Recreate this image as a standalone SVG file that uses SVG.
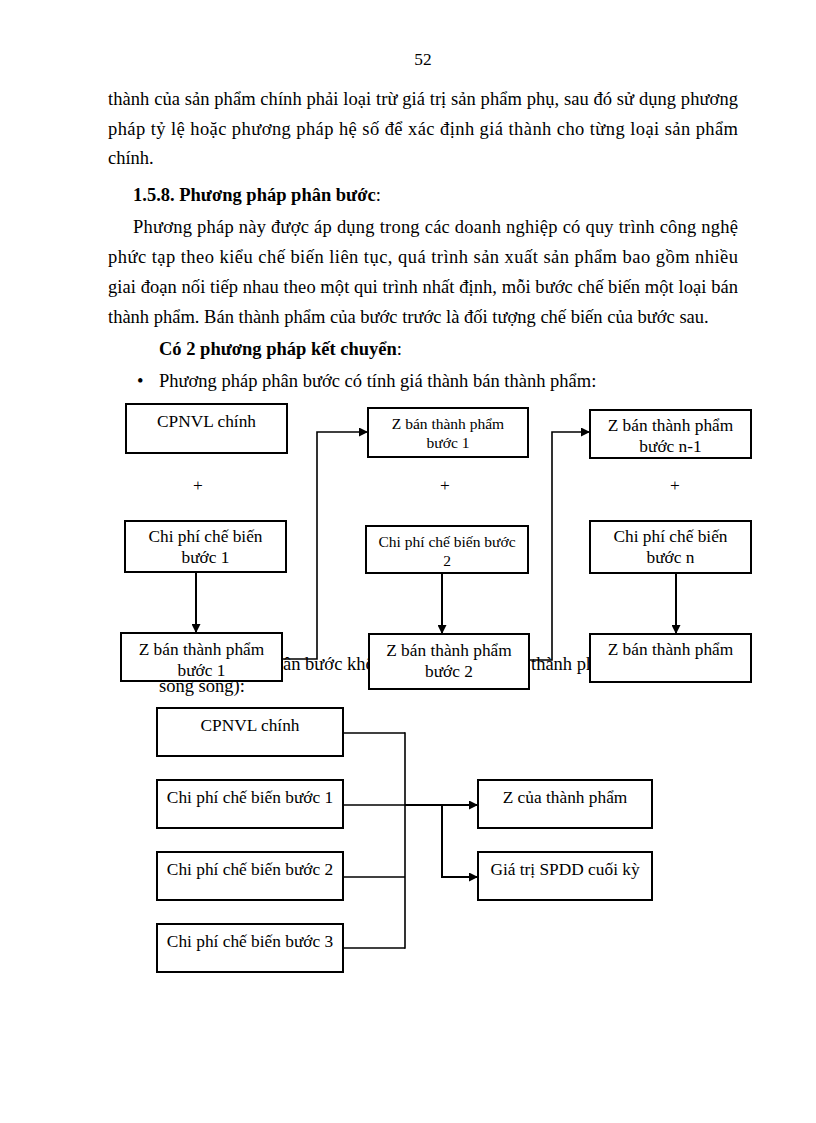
<svg xmlns="http://www.w3.org/2000/svg" width="816" height="1123" viewBox="0 0 816 1123">
<defs>
<style>
text{font-family:"Liberation Serif","Times New Roman",serif;fill:#000;}
.p{font-size:18.5px;}
.t{font-size:17.33px;}
.b{font-weight:bold;}
.s{font-size:15.5px;}
.box{fill:#fff;stroke:#000;stroke-width:2;}
.c{fill:none;stroke:#000;stroke-width:1.6;}
.a{fill:none;stroke:#000;stroke-width:2;}
.m{text-anchor:middle;}
</style>
<marker id="ar" viewBox="0 0 10 10" refX="10" refY="5" markerWidth="9" markerHeight="9" markerUnits="userSpaceOnUse" orient="auto">
<path d="M0,0 L10,5 L0,10 Z" fill="#000"/>
</marker>
</defs>
<rect width="816" height="1123" fill="#fff"/>
<g id="body-text">
<text class="t m" x="423" y="65">52</text>
<text class="p" x="108" y="105" textLength="630" lengthAdjust="spacing">thành của sản phẩm chính phải loại trừ giá trị sản phẩm phụ, sau đó sử dụng phương</text>
<text class="p" x="108" y="135" textLength="630" lengthAdjust="spacing">pháp tỷ lệ hoặc phương pháp hệ số để xác định giá thành cho từng loại sản phẩm</text>
<text class="p" x="108" y="164">chính.</text>
<text class="p" x="133" y="201"><tspan class="b">1.5.8. Phương pháp phân bước</tspan>:</text>
<text class="p" x="133" y="233" textLength="605" lengthAdjust="spacing">Phương pháp này được áp dụng trong các doanh nghiệp có quy trình công nghệ</text>
<text class="p" x="108" y="263" textLength="630" lengthAdjust="spacing">phức tạp theo kiểu chế biến liên tục, quá trình sản xuất sản phẩm bao gồm nhiều</text>
<text class="p" x="108" y="293" textLength="630" lengthAdjust="spacing">giai đoạn nối tiếp nhau theo một qui trình nhất định, mỗi bước chế biến một loại bán</text>
<text class="p" x="108" y="323">thành phẩm. Bán thành phẩm của bước trước là đối tượng chế biến của bước sau.</text>
<text class="p" x="159" y="355"><tspan class="b">Có 2 phương pháp kết chuyển</tspan>:</text>
<text class="p" x="137" y="387">•</text>
<text class="p" x="159" y="387">Phương pháp phân bước có tính giá thành bán thành phẩm:</text>
<text class="p" x="283" y="670">ân bước khô</text>
<text class="p" x="531" y="670">thành ph</text>
<text class="p" x="159" y="692">song song):</text>
</g>
<g id="connectors">
<line class="a" x1="196" y1="572" x2="196" y2="633" marker-end="url(#ar)"/>
<polyline class="c" points="282,659 317,659 317,432 368,432" marker-end="url(#ar)"/>
<line class="a" x1="442" y1="573" x2="442" y2="634" marker-end="url(#ar)"/>
<polyline class="c" points="529,660 552,660 552,432 590,432" marker-end="url(#ar)"/>
<line class="a" x1="676" y1="573" x2="676" y2="634" marker-end="url(#ar)"/>
<line class="c" x1="343" y1="733" x2="405" y2="733"/>
<line class="c" x1="343" y1="805" x2="405" y2="805"/>
<line class="c" x1="343" y1="877" x2="405" y2="877"/>
<line class="c" x1="343" y1="948" x2="405" y2="948"/>
<line class="c" x1="405" y1="732.2" x2="405" y2="948.8"/>
<line class="a" x1="405" y1="805" x2="478" y2="805" marker-end="url(#ar)"/>
<polyline class="a" points="442,805 442,877 478,877" marker-end="url(#ar)"/>
</g>
<g id="n-cpnvl1">
<rect class="box" x="126" y="404" width="161" height="49"/>
<text class="t m" x="206.5" y="427">CPNVL chính</text>
</g>
<text id="plus1" class="t m" x="198" y="491">+</text>
<g id="n-cpcb1">
<rect class="box" x="125" y="521" width="161" height="51"/>
<text class="t m" x="205.5" y="542">Chi phí chế biến</text>
<text class="t m" x="205.5" y="563">bước 1</text>
</g>
<g id="n-zbtp1">
<rect class="box" x="121" y="633" width="161" height="48"/>
<text class="t m" x="201.5" y="655">Z bán thành phẩm</text>
<text class="t m" x="201.5" y="676">bước 1</text>
</g>
<g id="n-zbtp1b">
<rect class="box" x="368" y="408" width="160" height="49"/>
<text class="s m" x="448" y="429">Z bán thành phẩm</text>
<text class="s m" x="448" y="448">bước 1</text>
</g>
<text id="plus2" class="t m" x="445" y="491">+</text>
<g id="n-cpcb2">
<rect class="box" x="366" y="526" width="162" height="47"/>
<text class="s m" x="447" y="547">Chi phí chế biến bước</text>
<text class="s m" x="447" y="566">2</text>
</g>
<g id="n-zbtp2">
<rect class="box" x="369" y="634" width="160" height="55"/>
<text class="t m" x="449" y="656">Z bán thành phẩm</text>
<text class="t m" x="449" y="677">bước 2</text>
</g>
<g id="n-zbtpn1">
<rect class="box" x="590" y="410" width="161" height="48"/>
<text class="t m" x="670.5" y="431">Z bán thành phẩm</text>
<text class="t m" x="670.5" y="452">bước n-1</text>
</g>
<text id="plus3" class="t m" x="675" y="491">+</text>
<g id="n-cpcbn">
<rect class="box" x="590" y="521" width="161" height="52"/>
<text class="t m" x="670.5" y="542">Chi phí chế biến</text>
<text class="t m" x="670.5" y="563">bước n</text>
</g>
<g id="n-zbtp">
<rect class="box" x="590" y="634" width="161" height="48"/>
<text class="t m" x="670.5" y="655">Z bán thành phẩm</text>
</g>
<g id="n-cpnvl2">
<rect class="box" x="157" y="708" width="186" height="48"/>
<text class="t m" x="250" y="731">CPNVL chính</text>
</g>
<g id="n-b1">
<rect class="box" x="157" y="780" width="186" height="48"/>
<text class="t m" x="250" y="803">Chi phí chế biến bước 1</text>
</g>
<g id="n-b2">
<rect class="box" x="157" y="852" width="186" height="48"/>
<text class="t m" x="250" y="875">Chi phí chế biến bước 2</text>
</g>
<g id="n-b3">
<rect class="box" x="157" y="924" width="186" height="48"/>
<text class="t m" x="250" y="947">Chi phí chế biến bước 3</text>
</g>
<g id="n-ztp">
<rect class="box" x="478" y="780" width="174" height="48"/>
<text class="t m" x="565" y="803">Z của thành phẩm</text>
</g>
<g id="n-spdd">
<rect class="box" x="478" y="852" width="174" height="48"/>
<text class="t m" x="565" y="875">Giá trị SPDD cuối kỳ</text>
</g>
</svg>
